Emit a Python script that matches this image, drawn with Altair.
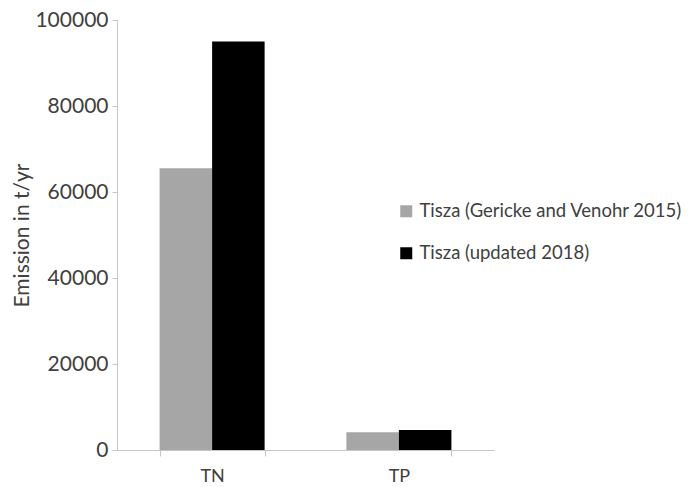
import altair as alt
import pandas as pd

categories = ["TN", "TP"]
series = ["Tisza (Gericke and Venohr 2015)", "Tisza (updated 2018)"]
gericke_2015 = [65500, 4100]
updated_2018 = [95000, 4650]
colors = ["#a6a6a6", "#000000"]
y_ticks = [0, 20000, 40000, 60000, 80000, 100000]

rows = []
for i, c in enumerate(categories):
    rows.append({"cat": c, "series": series[0], "value": gericke_2015[i]})
    rows.append({"cat": c, "series": series[1], "value": updated_2018[i]})
df = pd.DataFrame(rows)

FONT = "Lato"
TXT = "#404040"
AX = "#c6c6c6"

chart = alt.Chart(df).mark_bar().encode(
    x=alt.X("cat:N", sort=categories, title=None,
            scale=alt.Scale(paddingInner=0.4377, paddingOuter=0.228),
            axis=alt.Axis(labelAngle=0, tickBand="extent", tickSize=6,
                          labelPadding=11, domainColor=AX, tickColor=AX,
                          labelFont=FONT, labelFontSize=18, labelColor=TXT)),
    xOffset=alt.XOffset("series:N", sort=series),
    y=alt.Y("value:Q", title="Emission in t/yr",
            scale=alt.Scale(domain=[0, 100000]),
            axis=alt.Axis(values=y_ticks, format="d", grid=False, tickSize=5,
                          domainColor=AX, tickColor=AX, labelPadding=4,
                          labelFont=FONT, labelFontSize=21, labelColor=TXT,
                          titleFont=FONT, titleFontSize=21, titleColor=TXT,
                          titleFontWeight="normal", titlePadding=2)),
    color=alt.Color("series:N", sort=series,
                    scale=alt.Scale(domain=series, range=colors),
                    legend=alt.Legend(title=None, orient="none", legendX=280, legendY=182,
                                      symbolType="square", symbolSize=144,
                                      symbolStrokeWidth=0, labelFont=FONT,
                                      labelFontSize=18.5, labelColor=TXT, labelLimit=400,
                                      labelOffset=4, rowPadding=23, padding=0)),
).properties(
    width=377, height=430,
    autosize=alt.AutoSizeParams(type="none"),
    padding={"left": 109, "top": 12, "right": 190, "bottom": 34},
).configure_view(stroke=None)

chart.save("out.html", embed_options={"renderer": "svg", "actions": False})
